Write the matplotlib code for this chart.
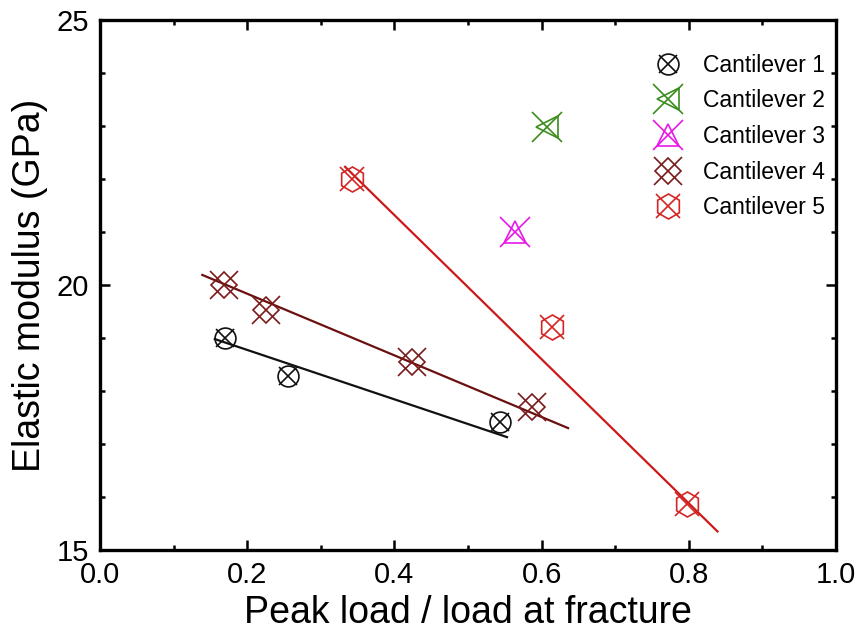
import matplotlib
matplotlib.use("Agg")
import matplotlib.pyplot as plt
from matplotlib.ticker import MultipleLocator, FormatStrFormatter
from matplotlib.legend_handler import HandlerTuple

plt.rcParams['font.family'] = ['Liberation Sans', 'DejaVu Sans']

# Data
c1_x = [0.170, 0.255, 0.543]
c1_y = [19.00, 18.28, 17.41]
c2_x = [0.607]
c2_y = [22.99]
c3_x = [0.564]
c3_y = [21.00]
c4_x = [0.168, 0.226, 0.424, 0.587]
c4_y = [20.00, 19.53, 18.55, 17.69]
c5_x = [0.342, 0.614, 0.798]
c5_y = [22.00, 19.20, 15.86]

# fitted trend lines (endpoints)
fit1_x = [0.156, 0.553]
fit1_y = [18.98, 17.13]
fit4_x = [0.139, 0.636]
fit4_y = [20.19, 17.30]
fit5_x = [0.333, 0.839]
fit5_y = [22.23, 15.35]

labels = ["Cantilever 1", "Cantilever 2", "Cantilever 3", "Cantilever 4", "Cantilever 5"]

black = "#111111"
green = "#3c8c1e"
magenta = "#e619e6"
darkred = "#7a1a1a"
red = "#d42424"

fig = plt.figure(figsize=(8.6, 6.33), dpi=100)
ax = fig.add_axes([100/860, 1-550/633, 736/860, 530/633])

ax.plot(fit1_x, fit1_y, color=black, lw=1.6, zorder=2)
ax.plot(fit4_x, fit4_y, color="#6b1010", lw=1.6, zorder=2)
ax.plot(fit5_x, fit5_y, color="#cc1a1a", lw=1.6, zorder=2)

mew = 1.2
def pair(x, y, shape, ms_shape, ms_x, color):
    a, = ax.plot(x, y, linestyle='none', marker=shape, ms=ms_shape, mfc='none',
                 mec=color, mew=mew, zorder=3)
    b, = ax.plot(x, y, linestyle='none', marker='x', ms=ms_x,
                 mec=color, mew=mew, zorder=3)
    return (a, b)

h1 = pair(c1_x, c1_y, 'o', 15, 13, black)
h2 = pair(c2_x, c2_y, '<', 16, 22, green)
h3 = pair(c3_x, c3_y, '^', 16, 21, magenta)
h4 = pair(c4_x, c4_y, 'D', 13.5, 20, darkred)
h5 = pair(c5_x, c5_y, 'h', 18, 17, red)

ax.set_xlim(0, 1.0)
ax.set_ylim(15, 25)
ax.xaxis.set_major_locator(MultipleLocator(0.2))
ax.xaxis.set_minor_locator(MultipleLocator(0.1))
ax.yaxis.set_major_locator(MultipleLocator(5))
ax.yaxis.set_minor_locator(MultipleLocator(1))
ax.xaxis.set_major_formatter(FormatStrFormatter('%.1f'))

for s in ax.spines.values():
    s.set_linewidth(2.4)
ax.tick_params(which='both', direction='in', top=True, right=True, width=1.8)
ax.tick_params(which='major', length=7, labelsize=21, pad=8)
ax.tick_params(which='minor', length=3.5)

ax.set_xlabel("Peak load / load at fracture", fontsize=27, labelpad=4)
ax.set_ylabel("Elastic modulus (GPa)", fontsize=27, labelpad=6)

leg = ax.legend([h1, h2, h3, h4, h5], labels,
                handler_map={tuple: HandlerTuple(ndivide=1)},
                loc='upper right', bbox_to_anchor=(1.0, 0.958), frameon=False,
                fontsize=16.5, handlelength=1.2, handletextpad=0.9,
                labelspacing=0.55, borderaxespad=0.1)

fig.savefig("out.png", dpi=100)
